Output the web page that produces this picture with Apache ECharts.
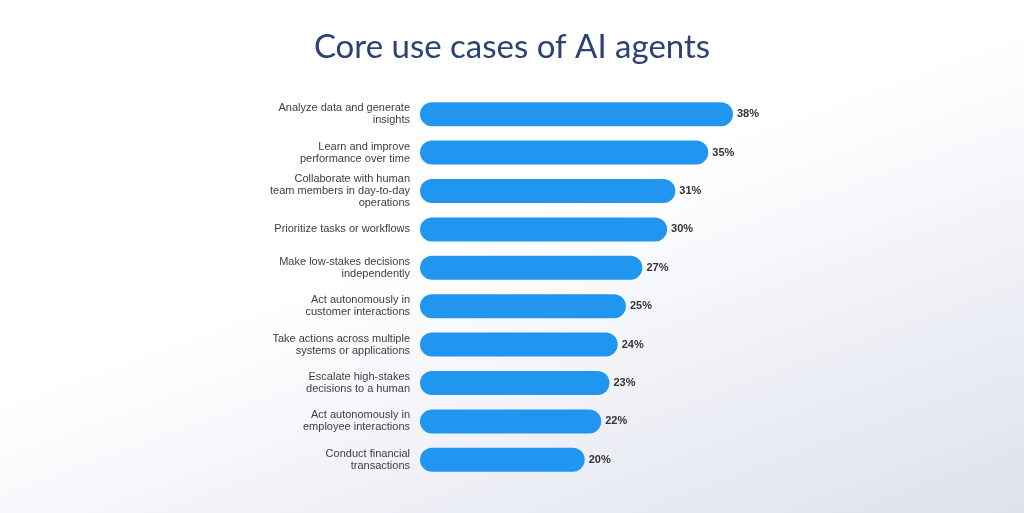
<!DOCTYPE html>
<html>
<head>
<meta charset="utf-8">
<script src="https://cdn.jsdelivr.net/npm/echarts@6/dist/echarts.min.js"></script>
<style>
  html, body { margin: 0; padding: 0; }
  #chart { width: 1024px; height: 513px;
    background: linear-gradient(160deg, #ffffff 0%, #ffffff 45%, #e9ecf3 80%, #dde2ec 100%); }
</style>
</head>
<body>
<div id="chart"></div>
<script>
var categories = [
  'Analyze data and generate\ninsights',
  'Learn and improve\nperformance over time',
  'Collaborate with human\nteam members in day-to-day\noperations',
  'Prioritize tasks or workflows',
  'Make low-stakes decisions\nindependently',
  'Act autonomously in\ncustomer interactions',
  'Take actions across multiple\nsystems or applications',
  'Escalate high-stakes\ndecisions to a human',
  'Act autonomously in\nemployee interactions',
  'Conduct financial\ntransactions'
];
var values = [38, 35, 31, 30, 27, 25, 24, 23, 22, 20];

var chart = echarts.init(document.getElementById('chart'));
chart.setOption({
  title: {
    text: 'Core use cases of AI agents',
    left: 'center',
    top: 26,
    textStyle: { fontFamily: 'Lato', fontSize: 33, fontWeight: 'normal', color: '#2c4372' }
  },
  grid: { left: 420, right: 291, top: 95, bottom: 34, containLabel: false },
  xAxis: { type: 'value', min: 0, max: 38, show: false },
  yAxis: {
    type: 'category',
    inverse: true,
    data: categories,
    axisLine: { show: false },
    axisTick: { show: false },
    axisLabel: {
      margin: 10,
      fontFamily: 'Liberation Sans',
      fontSize: 11,
      lineHeight: 12,
      color: '#3d3d3d',
      align: 'right'
    }
  },
  series: [{
    type: 'bar',
    data: values,
    barWidth: 24,
    itemStyle: { color: '#2196f0', borderRadius: 12 },
    label: {
      show: true,
      position: 'right',
      distance: 4,
      formatter: '{c}%',
      fontFamily: 'Liberation Sans',
      fontWeight: 'bold',
      fontSize: 11,
      color: '#333'
    }
  }]
});
</script>
</body>
</html>
